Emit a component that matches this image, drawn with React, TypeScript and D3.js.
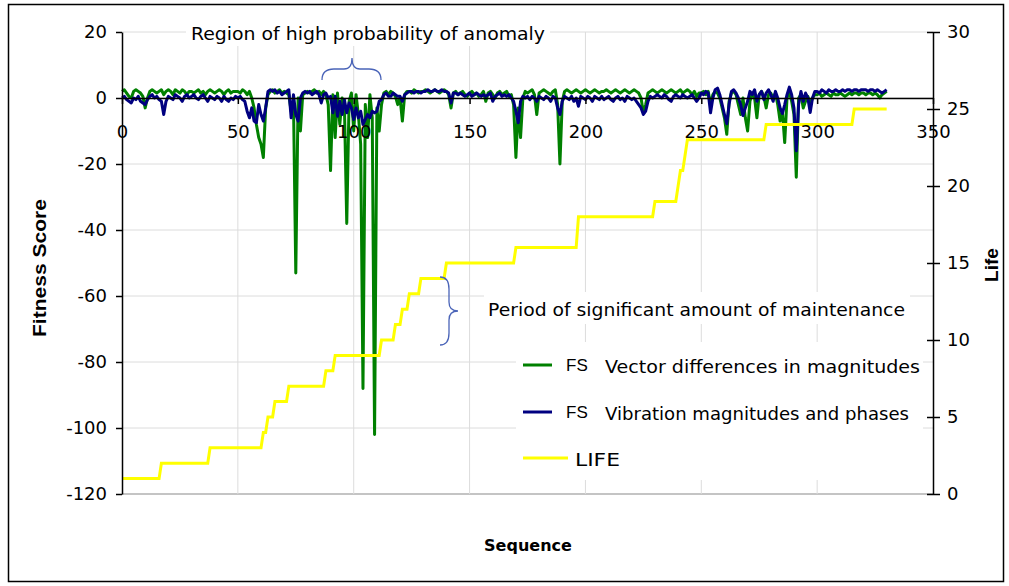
import { useEffect, useRef } from 'react';
import * as d3 from 'd3';

// Fitness score, vector differences in magnitudes (seq 0..330)
const fsVector = [
  2, 2.5, 1.5, 0.5, 0, 2, 2.5, 2, 1.5, 0.5,
  -3, 0, 2, 2.5, 2, 1.5, 2, 2.5, 1, 2,
  2.5, 2, 1, 2.5, 2, 1.5, 2.5, 2, 1, 2,
  2, 1.5, 2, 2.5, 1.5, 2, 1, 2, 2.5, 2,
  1.5, 2, 2.5, 2, 1, 2, 2.5, 1.5, 2, 2,
  2, 1.5, 2.5, 2, 1, 2, 0, -3, -8, -12,
  -14, -18, -3, 1, 2, 2.5, 1.5, 2, 2.5, 1.5,
  2, 1.5, 1, -4, -1, -53, 0, -10, 1, 1.5,
  2, 1.5, 2, 2.5, 1.5, 2, 1, 2, 1, -2,
  -22, 1, -12, 1.5, -8, 0, -3, -38, -1, 1.5,
  -10, 1, -5, -14, -88, -2, -12, 1, -6, -102,
  -3, -10, -2, 1.5, 2, 1, 2, 1.5, 0.5, -2,
  0, -7, 1, 2, 2, 1.5, 2.5, 2, 1.5, 2,
  2, 2.5, 2, 1.5, 2, 2.5, 2, 1.5, 2, 2.5,
  2, 1, -3, 1.5, 2, 1, 1.5, 2, 1, 0.5,
  1.5, 2, 1, 1.5, 0.5, 1, 2, -1, 1.5, 2,
  1, 0, 1.5, 2, 1, 1.5, 2, 0.5, 1, -2,
  -18, -3, -12, 0, 2, 1.5, 2, 2.5, 1, -5,
  1.5, 2, 2.5, 2, 1.5, 1, 2, 2.5, -2, -20,
  -1, 2, 2.5, 2, 1.5, 2, 2.5, 2, 1.5, 2,
  2.5, 2, 1.5, 2, 2.5, 2, 1.5, 2, 2, 2.5,
  2, 1.5, 2, 2.5, 2, 1.5, 2, 2.5, 2, 1.5,
  2, 2.5, 2, 1.5, 0, -4.5, -2, 1.5, 2, 2.5,
  2, 1.5, 2, 2.5, 2, 1.5, 2, 2.5, 2, 1.5,
  2, 2.5, 1.5, 2, 2.5, 2, 1, 2, 0.5, 1.5,
  1.5, 2, 1, 2, -2, 1, 2, 1.5, 0, -3,
  -6, -11, -1, 1.5, 2, 1, -2, -5, 0, -6,
  -10, -1, 1.5, 0, -6, 1, 2, 0.5, -3, 1,
  1.5, 0, 1.5, -2, -7, -4, -13.5, 0, 2, -1,
  -5, -24, 0, 1, -3, -1, 0.5, -2, 0, 1,
  1, 1.5, 0.5, 1, 1.5, 1, 0.5, 1.5, 1, 1,
  1.5, 1, 0.5, 1, 1.5, 1, 1.5, 1.5, 1, 1.5,
  1.5, 1, 1.5, 1.5, 1, 1.5, 1, 0, 1, 1.5, 2,
];

// Fitness score, vibration magnitudes and phases (seq 0..330)
const fsVibration = [
  0, 0.5, -0.5, -1, -1.5, 0, -0.5, 0.5, -1, -1.5,
  -2, -0.5, 0.5, 1, 0, 0.5, -0.5, -1, -5, -1,
  0.5, 0, -0.5, 1, 0.5, 0, -1, 0.5, 1, 0,
  0.5, 1, 0, -0.5, 0.5, 1, 0, -1, 0.5, 0,
  -0.5, 0.5, 0, -1, 0.5, -0.5, -1, 0, -0.5, 0.5,
  0, 0.5, -0.5, -1, -4, -6, -3, -7, -7.5, -2,
  -5, -7, -3, 2, 2.5, 2, 2.5, 1.5, 2, 1,
  1.5, 2, 2.5, -6, 1, -5, -7, 0, 1.5, 2,
  1.5, 2, 1, 1.5, 2, 1, -1.5, 1, 1.5, 0,
  0.5, -4.5, 0.5, -5.5, -1, -5, -0.5, -4.5, -1.5, -3,
  -6.5, -3, -6, -4, -8, -6.5, -5, -6, -4, -4.5,
  -4, -1, -0.5, 1, 1.5, 0.5, 0.5, 1.5, 1, 0.5,
  0.5, -1, 1, 1.5, 2, 2, 1.5, 2, 2, 1.5,
  2, 2, 2.5, 2, 2, 2.5, 2, 2, 2.5, 2,
  2, 1.5, -1.5, 1.5, 1.5, 1, 1.5, 1, 0.5, 1,
  1.5, 0.5, 1, 1.5, 1, 0.5, 1, 0.5, 1, 1.5,
  -1, 0.5, 1, 1.5, 0.5, 1, 0.5, 1, 0, -1,
  -4, -7.5, -1, 0.5, 0, 0.5, -0.5, 0.5, 0, -1,
  0.5, 0, -0.5, 0.5, 0, -1, 0.5, 0, -3, -5,
  -1, 0.5, 0, -0.5, 0.5, -1, 0, -2.5, 0.5, 0,
  -0.5, 0.5, 0, -1, 0.5, 0, -0.5, 0.5, -0.5, 0,
  0.5, -0.5, -1, 0, 0.5, -0.5, 0, -1, 0.5, 0,
  -0.5, 0, -1, -2, -3, -5, -4, -1, 0.5, 0,
  0.5, 1, 0.5, 0, 1, 0.5, -0.5, -1, 0.5, 1,
  0.5, 0, 1, 0.5, 0, 0.5, 1, 0, -1, 0,
  1.5, 1, 2, 1.5, -4.5, 0, 2.5, 3, 1, -2,
  -5, -7.8, -2, 2, 2.5, 1.5, 0, -2, -5.3, -3,
  -1, 2, 1, 2.5, -1, 1, 2, -0.5, 1.5, 2.5,
  1, -1, 2, 0, -3, -4.7, -2, 1, 3.3, 1,
  -3, -16, -2, 2, -1, 1.5, 0, -4.4, 0, 2,
  2, 1.5, 2.5, 2, 1.5, 2.5, 2, 2, 2.5, 2,
  2, 2.5, 2, 2.5, 2.5, 2, 2.5, 2.5, 2, 2.5,
  2.5, 2.5, 2, 2.5, 2.5, 2, 2.5, 2, 1.5, 2, 2.5,
];

// LIFE (right axis), values at the sequence points where it changes
const lifeSeq = [0, 16, 17, 37, 38, 60, 61, 62, 63, 65, 66, 71, 72, 87, 88, 91, 92, 111, 112, 117, 118, 120, 121, 123, 124, 128, 129, 139, 140, 169, 170, 196, 197, 229, 230, 239, 240, 241, 242, 243, 244, 277, 278, 315, 316, 330];
const lifeVal = [1, 1, 2, 2, 3, 3, 4, 4, 5, 5, 6, 6, 7, 7, 8, 8, 9, 9, 10, 10, 11, 11, 12, 12, 13, 13, 14, 14, 15, 15, 16, 16, 18, 18, 19, 19, 20, 21, 21, 22, 23, 23, 24, 24, 25, 25];

const xTicks = [0, 50, 100, 150, 200, 250, 300, 350];
const leftTicks = [20, 0, -20, -40, -60, -80, -100, -120];
const rightTicks = [0, 5, 10, 15, 20, 25, 30];

const legendItems = [
  { key: 'FS', label: 'Vector differences in magnitudes', color: '#008000' },
  { key: 'FS', label: 'Vibration magnitudes and phases', color: '#000080' },
  { key: '', label: 'LIFE', color: '#ffff00' },
];

const W = 1009;
const H = 586;
const TICK_FONT = "'DejaVu Sans', Verdana, sans-serif";
const NOTE_FONT = "'Comic Sans MS', 'DejaVu Sans', sans-serif";

// plain hyphen for negatives, as in the original
const fmt = (d: d3.NumberValue) => String(d);

export default function App() {
  const svgRef = useRef<SVGSVGElement>(null);

  useEffect(() => {
    if (!svgRef.current) return;
    const svg = d3.select(svgRef.current);
    svg.selectAll('*').remove();

    const plot = { left: 122, right: 933, top: 32, bottom: 494 };

    const x = d3.scaleLinear().domain([0, 350]).range([plot.left, plot.right]);
    const yL = d3.scaleLinear().domain([-120, 20]).range([plot.bottom, plot.top]);
    const yR = d3.scaleLinear().domain([0, 30]).range([plot.bottom, plot.top]);

    svg.append('rect').attr('width', W).attr('height', H).attr('fill', '#fff');

    // outer frame
    svg.append('rect')
      .attr('x', 8.5).attr('y', 4.5).attr('width', 995).attr('height', 577)
      .attr('fill', 'none').attr('stroke', '#000').attr('stroke-width', 1.5);

    // gridlines
    const grid = svg.append('g');
    grid.selectAll('line.h')
      .data(leftTicks)
      .join('line')
      .attr('x1', plot.left).attr('x2', plot.right)
      .attr('y1', (d) => yL(d)).attr('y2', (d) => yL(d))
      .attr('stroke', (d) => (d === -120 ? '#c4c4c4' : '#dcdcdc'))
      .attr('stroke-width', (d) => (d === -120 ? 2 : 1));
    grid.selectAll('line.v')
      .data(xTicks.filter((d) => d > 0 && d < 350))
      .join('line')
      .attr('x1', (d) => x(d)).attr('x2', (d) => x(d))
      .attr('y1', plot.top).attr('y2', plot.bottom)
      .attr('stroke', '#dcdcdc').attr('stroke-width', 1);

    // white boxes behind notes and legend
    svg.append('rect').attr('x', 186).attr('y', 20).attr('width', 364).attr('height', 26).attr('fill', '#fff');
    svg.append('rect').attr('x', 484).attr('y', 292).attr('width', 426).attr('height', 32).attr('fill', '#fff');
    svg.append('rect').attr('x', 516).attr('y', 342).attr('width', 407).attr('height', 138).attr('fill', '#fff');

    // series
    const lineFS = d3.line<number>()
      .x((_, i) => x(i))
      .y((d) => yL(d));

    svg.append('path')
      .datum(fsVector)
      .attr('d', lineFS)
      .attr('fill', 'none').attr('stroke', '#008000').attr('stroke-width', 3)
      .attr('stroke-linejoin', 'round');

    svg.append('path')
      .datum(fsVibration)
      .attr('d', lineFS)
      .attr('fill', 'none').attr('stroke', '#000080').attr('stroke-width', 3)
      .attr('stroke-linejoin', 'round');

    const lifeLine = d3.line<number>()
      .x((_, i) => x(lifeSeq[i]))
      .y((d) => yR(d));

    svg.append('path')
      .datum(lifeVal)
      .attr('d', lifeLine)
      .attr('fill', 'none').attr('stroke', '#ffff00').attr('stroke-width', 3);

    // left axis
    const gL = svg.append('g')
      .attr('transform', `translate(${plot.left},0)`)
      .call(d3.axisLeft(yL).tickValues(leftTicks).tickFormat(fmt).tickSize(6).tickSizeOuter(0).tickPadding(9));
    gL.select('.domain').attr('stroke', '#000').attr('stroke-width', 1.5);
    gL.selectAll('.tick line').attr('stroke', '#000').attr('stroke-width', 1.5);
    gL.selectAll('.tick text')
      .attr('font-family', TICK_FONT).attr('font-size', 18).attr('fill', '#000');

    // right axis
    const gR = svg.append('g')
      .attr('transform', `translate(${plot.right},0)`)
      .call(d3.axisRight(yR).tickValues(rightTicks).tickFormat(fmt).tickSize(7).tickSizeOuter(0).tickPadding(7));
    gR.select('.domain').attr('stroke', '#000').attr('stroke-width', 1.5);
    gR.selectAll('.tick line').attr('x1', -6).attr('stroke', '#000').attr('stroke-width', 1.5);
    gR.selectAll('.tick text')
      .attr('font-family', TICK_FONT).attr('font-size', 18).attr('fill', '#000');

    // x axis along zero
    const gX = svg.append('g')
      .attr('transform', `translate(0,${yL(0)})`)
      .call(d3.axisBottom(x).tickValues(xTicks).tickFormat(fmt).tickSize(6).tickSizeOuter(0));
    gX.select('.domain').attr('stroke', '#000').attr('stroke-width', 1.5);
    gX.selectAll('.tick line').attr('stroke', '#000').attr('stroke-width', 1.5);
    gX.selectAll('.tick text')
      .attr('y', 40).attr('dy', 0)
      .attr('font-family', TICK_FONT).attr('font-size', 18).attr('fill', '#000');

    // axis titles
    svg.append('text')
      .attr('transform', 'translate(46,268) rotate(-90)')
      .attr('text-anchor', 'middle')
      .attr('font-family', "'Liberation Sans', Arial, sans-serif")
      .attr('font-weight', 'bold').attr('font-size', 19)
      .attr('textLength', 138).attr('lengthAdjust', 'spacingAndGlyphs')
      .text('Fitness Score');
    svg.append('text')
      .attr('transform', 'translate(998,265) rotate(-90)')
      .attr('text-anchor', 'middle')
      .attr('font-family', "'Liberation Sans', Arial, sans-serif")
      .attr('font-weight', 'bold').attr('font-size', 19)
      .text('Life');
    svg.append('text')
      .attr('x', 528).attr('y', 551)
      .attr('text-anchor', 'middle')
      .attr('font-family', TICK_FONT)
      .attr('font-weight', 'bold').attr('font-size', 16)
      .text('Sequence');

    // annotations
    svg.append('text')
      .attr('x', 191).attr('y', 40)
      .attr('font-family', NOTE_FONT).attr('font-size', 17)
      .attr('textLength', 354).attr('lengthAdjust', 'spacingAndGlyphs')
      .text('Region of high probability of anomaly');
    svg.append('text')
      .attr('x', 488).attr('y', 316)
      .attr('font-family', NOTE_FONT).attr('font-size', 17)
      .attr('textLength', 417).attr('lengthAdjust', 'spacingAndGlyphs')
      .text('Period of significant amount of maintenance');

    const braceColor = '#4a64b8';
    svg.append('path')
      .attr('d', 'M322,80 Q322,69 334,69 L344,69 Q352,69 352,58 Q352,69 360,69 L369,69 Q381,69 381,80')
      .attr('fill', 'none').attr('stroke', braceColor).attr('stroke-width', 1.3);
    svg.append('path')
      .attr('d', 'M440,277 Q449,277 449,289 L449,302 Q449,311 458,311 Q449,311 449,320 L449,333 Q449,345 440,345')
      .attr('fill', 'none').attr('stroke', braceColor).attr('stroke-width', 1.3);

    // legend
    const lg = svg.append('g');
    const rowY = [365, 412, 458];
    legendItems.forEach((item, i) => {
      const y = rowY[i];
      const isLife = item.key === '';
      lg.append('line')
        .attr('x1', 523).attr('x2', isLife ? 568 : 552)
        .attr('y1', y).attr('y2', y)
        .attr('stroke', item.color).attr('stroke-width', 3);
      if (!isLife) {
        lg.append('text')
          .attr('x', 566).attr('y', y + 6)
          .attr('font-family', "'Liberation Sans', Arial, sans-serif").attr('font-size', 17)
          .text(item.key);
      }
      lg.append('text')
        .attr('x', isLife ? 575 : 605).attr('y', y + 8)
        .attr('font-family', NOTE_FONT).attr('font-size', 17)
        .attr('textLength', isLife ? 45 : i === 0 ? 315 : 304)
        .attr('lengthAdjust', 'spacingAndGlyphs')
        .text(item.label);
    });
  }, []);

  return (
    <div style={{ position: 'absolute', left: 0, top: 0 }}>
      <svg ref={svgRef} width={W} height={H} />
    </div>
  );
}
